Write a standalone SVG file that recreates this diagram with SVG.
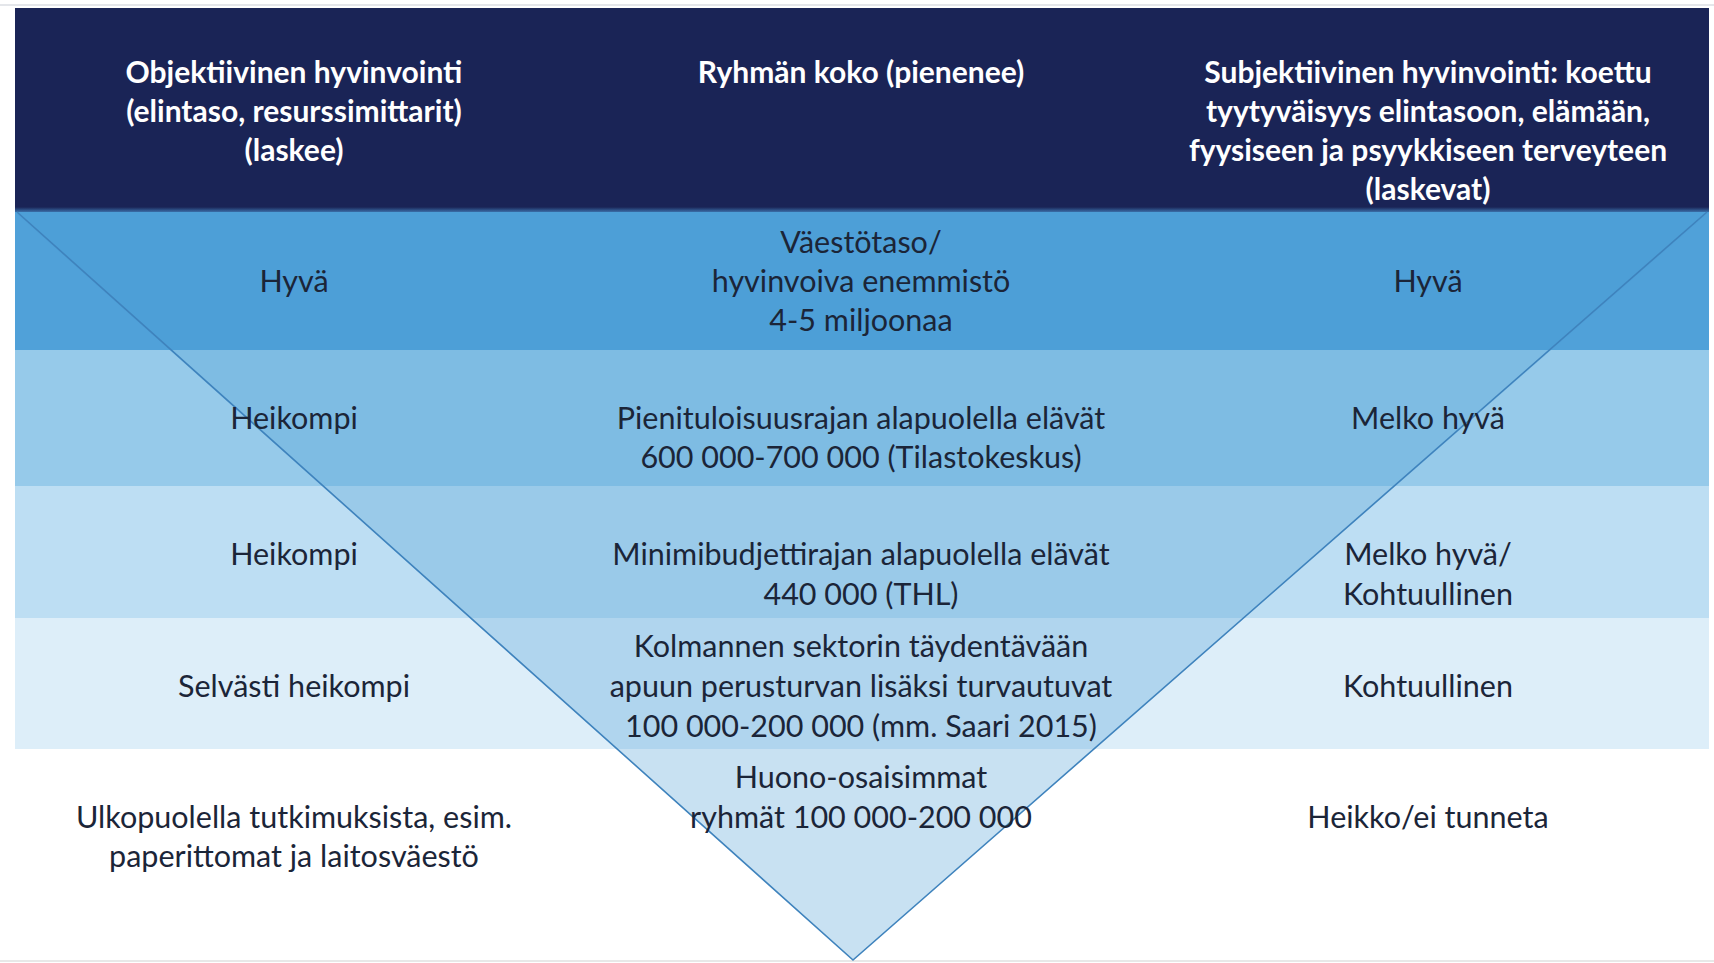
<svg xmlns="http://www.w3.org/2000/svg" width="1714" height="963" viewBox="0 0 1714 963">
  <defs>
    <style>
      .hd { font-family: Lato, "Liberation Sans", sans-serif; font-weight: bold; font-size: 30px; fill: #ffffff; text-anchor: middle; }
      .tx { font-family: Lato, "Liberation Sans", sans-serif; font-size: 30.5px; fill: #1b2538; text-anchor: middle; }
    </style>
    <linearGradient id="hdEdge" x1="0" y1="0" x2="0" y2="1">
      <stop offset="0" stop-color="#1a2456"/>
      <stop offset="1" stop-color="#3a6fa8"/>
    </linearGradient>
  </defs>
  <rect x="0" y="0" width="1714" height="963" fill="#ffffff"/>
  <line x1="0" y1="5" x2="1714" y2="5" stroke="#e4e6ea" stroke-width="2"/>
  <line x1="0" y1="961" x2="1714" y2="961" stroke="#e8e8e8" stroke-width="2"/>

  <g id="bands">
    <rect id="header" x="15" y="8" width="1694" height="203" fill="#1a2456"/>
    <rect x="15" y="207" width="1694" height="5" fill="url(#hdEdge)"/>
    <rect id="band1" x="15" y="212" width="1694" height="138" fill="#50a1d9"/>
    <rect id="band2" x="15" y="350" width="1694" height="136" fill="#96caea"/>
    <rect id="band3" x="15" y="486" width="1694" height="132" fill="#bddef3"/>
    <rect id="band4" x="15" y="618" width="1694" height="131" fill="#ddeef9"/>
  </g>

  <g id="triangle">
    <polygon points="15,212 1709,212 853,960" fill="#4a9bd5" fill-opacity="0.3" stroke="none"/>
    <polyline points="17,212 853,960 1707,212" fill="none" stroke="#3f83bd" stroke-width="1.6"/>
  </g>

  <g id="header-left">
    <text class="hd" x="294" y="72" dy="0.35em">Objektiivinen hyvinvointi</text>
    <text class="hd" x="294" y="111" dy="0.35em">(elintaso, resurssimittarit)</text>
    <text class="hd" x="294" y="150" dy="0.35em">(laskee)</text>
  </g>
  <g id="header-mid">
    <text class="hd" x="861" y="72" dy="0.35em">Ryhmän koko (pienenee)</text>
  </g>
  <g id="header-right">
    <text class="hd" x="1428" y="72" dy="0.35em">Subjektiivinen hyvinvointi: koettu</text>
    <text class="hd" x="1428" y="111" dy="0.35em">tyytyväisyys elintasoon, elämään,</text>
    <text class="hd" x="1428" y="150" dy="0.35em">fyysiseen ja psyykkiseen terveyteen</text>
    <text class="hd" x="1428" y="189" dy="0.35em">(laskevat)</text>
  </g>

  <g id="row1">
    <text class="tx" x="294" y="281" dy="0.35em">Hyvä</text>
    <text class="tx" x="861" y="242" dy="0.35em">Väestötaso/</text>
    <text class="tx" x="861" y="281" dy="0.35em">hyvinvoiva enemmistö</text>
    <text class="tx" x="861" y="320" dy="0.35em">4-5 miljoonaa</text>
    <text class="tx" x="1428" y="281" dy="0.35em">Hyvä</text>
  </g>
  <g id="row2">
    <text class="tx" x="294" y="418" dy="0.35em">Heikompi</text>
    <text class="tx" x="861" y="418" dy="0.35em">Pienituloisuusrajan alapuolella elävät</text>
    <text class="tx" x="861" y="457" dy="0.35em">600 000-700 000 (Tilastokeskus)</text>
    <text class="tx" x="1428" y="418" dy="0.35em">Melko hyvä</text>
  </g>
  <g id="row3">
    <text class="tx" x="294" y="554" dy="0.35em">Heikompi</text>
    <text class="tx" x="861" y="554" dy="0.35em">Minimibudjettirajan alapuolella elävät</text>
    <text class="tx" x="861" y="594" dy="0.35em">440 000 (THL)</text>
    <text class="tx" x="1428" y="554" dy="0.35em">Melko hyvä/</text>
    <text class="tx" x="1428" y="594" dy="0.35em">Kohtuullinen</text>
  </g>
  <g id="row4">
    <text class="tx" x="294" y="686" dy="0.35em">Selvästi heikompi</text>
    <text class="tx" x="861" y="646" dy="0.35em">Kolmannen sektorin täydentävään</text>
    <text class="tx" x="861" y="686" dy="0.35em">apuun perusturvan lisäksi turvautuvat</text>
    <text class="tx" x="861" y="726" dy="0.35em">100 000-200 000 (mm. Saari 2015)</text>
    <text class="tx" x="1428" y="686" dy="0.35em">Kohtuullinen</text>
  </g>
  <g id="row5">
    <text class="tx" x="294" y="817" dy="0.35em">Ulkopuolella tutkimuksista, esim.</text>
    <text class="tx" x="294" y="856" dy="0.35em">paperittomat ja laitosväestö</text>
    <text class="tx" x="861" y="777" dy="0.35em">Huono-osaisimmat</text>
    <text class="tx" x="861" y="817" dy="0.35em">ryhmät 100 000-200 000</text>
    <text class="tx" x="1428" y="817" dy="0.35em">Heikko/ei tunneta</text>
  </g>
</svg>
